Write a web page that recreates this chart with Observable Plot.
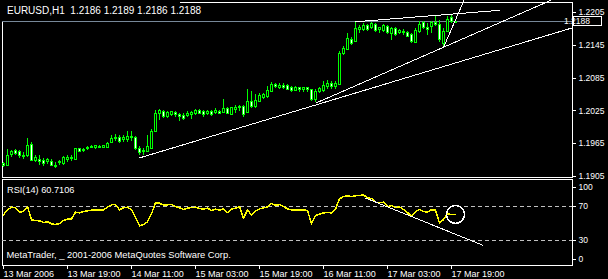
<!DOCTYPE html>
<html><head><meta charset="utf-8">
<script src="https://cdn.jsdelivr.net/npm/d3@7"></script>
<script src="https://cdn.jsdelivr.net/npm/@observablehq/plot@0.6"></script>
<style>
html,body{margin:0;padding:0;background:#000;}
#wrap{position:relative;width:608px;height:279px;background:#000;overflow:hidden;font-family:"Liberation Sans",Arial,sans-serif;}
#rsi{position:absolute;left:0;top:178px;}
#main{position:absolute;left:0;top:0;}
#main svg{overflow:visible;}
#title{position:absolute;left:0;top:1px;width:180px;height:20px;background:#000;color:#fff;font-size:10px;line-height:20px;padding-left:7px;white-space:pre;box-sizing:border-box;overflow:visible;}
</style></head><body>
<div id="wrap"><div id="rsi"></div><div id="main"></div><div id="title"></div></div>
<script>
const symbol = "EURUSD,H1";
const startTime = "2006-03-13T03:00:00Z";
const barOpen = [1.1927,1.1925,1.1945,1.1951,1.1949,1.1943,1.1943,1.1963,1.1934,1.1936,
1.1933,1.1931,1.1932,1.1925,1.1929,1.1927,1.1936,1.1939,1.1936,1.1956,
1.1952,1.1956,1.1957,1.1958,1.1959,1.1957,1.1957,1.1966,1.1973,1.1975,
1.1971,1.1971,1.1978,1.1975,1.1956,1.1949,1.1949,1.1956,1.1986,1.2019,
1.2023,1.2013,1.2017,1.2021,1.2018,1.2016,1.2015,1.2017,1.2020,1.2024,
1.2023,1.2019,1.2023,1.2021,1.2023,1.2021,1.2029,1.2018,1.2027,1.2030,
1.2032,1.2021,1.2042,1.2032,1.2042,1.2049,1.2050,1.2059,1.2073,1.2067,
1.2071,1.2070,1.2067,1.2062,1.2066,1.2064,1.2066,1.2064,1.2045,1.2060,
1.2061,1.2068,1.2075,1.2069,1.2073,1.2129,1.2136,1.2154,1.2151,1.2173,
1.2173,1.2181,1.2177,1.2182,1.2173,1.2171,1.2179,1.2165,1.2174,1.2168,
1.2170,1.2167,1.2163,1.2150,1.2170,1.2185,1.2176,1.2179,1.2185,1.2183,
1.2148,1.2169,1.2195,1.2186];
const barHigh = [1.1931,1.1954,1.1952,1.1954,1.1952,1.1949,1.1974,1.1967,1.1943,1.1943,
1.1938,1.1938,1.1936,1.1931,1.1934,1.1942,1.1943,1.1943,1.1957,1.1957,
1.1957,1.1960,1.1962,1.1962,1.1962,1.1962,1.1968,1.1980,1.1981,1.1980,
1.1980,1.1987,1.1987,1.1978,1.1959,1.1956,1.1980,1.1991,1.2026,1.2027,
1.2026,1.2024,1.2024,1.2023,1.2021,1.2021,1.2024,1.2024,1.2027,1.2027,
1.2026,1.2026,1.2026,1.2029,1.2026,1.2046,1.2032,1.2032,1.2034,1.2034,
1.2034,1.2064,1.2060,1.2055,1.2056,1.2056,1.2070,1.2077,1.2076,1.2075,
1.2075,1.2073,1.2070,1.2070,1.2068,1.2067,1.2067,1.2065,1.2065,1.2068,
1.2079,1.2080,1.2078,1.2078,1.2133,1.2143,1.2167,1.2159,1.2188,1.2182,
1.2185,1.2183,1.2186,1.2185,1.2177,1.2183,1.2182,1.2177,1.2177,1.2174,
1.2174,1.2171,1.2167,1.2176,1.2188,1.2188,1.2185,1.2189,1.2199,1.2190,
1.2176,1.2197,1.2201,1.2189];
const barLow = [1.1922,1.1924,1.1940,1.1943,1.1938,1.1936,1.1940,1.1933,1.1931,1.1925,
1.1924,1.1927,1.1923,1.1920,1.1925,1.1925,1.1931,1.1932,1.1934,1.1948,
1.1949,1.1953,1.1956,1.1954,1.1956,1.1956,1.1956,1.1965,1.1969,1.1965,
1.1968,1.1967,1.1969,1.1952,1.1943,1.1943,1.1948,1.1954,1.1985,1.2007,
1.2011,1.2012,1.2014,1.2013,1.2006,1.2007,1.2013,1.2009,1.2017,1.2018,
1.2013,1.2017,1.2015,1.2018,1.2018,1.2020,1.2018,1.2017,1.2021,1.2024,
1.2013,1.2020,1.2030,1.2030,1.2041,1.2046,1.2048,1.2058,1.2066,1.2064,
1.2064,1.2062,1.2059,1.2060,1.2059,1.2059,1.2059,1.2043,1.2040,1.2057,
1.2059,1.2065,1.2065,1.2065,1.2072,1.2127,1.2135,1.2145,1.2150,1.2167,
1.2171,1.2170,1.2174,1.2168,1.2167,1.2168,1.2165,1.2153,1.2161,1.2165,
1.2163,1.2159,1.2148,1.2148,1.2167,1.2173,1.2163,1.2167,1.2179,1.2151,
1.2140,1.2168,1.2185,1.2186];
const barClose = [1.1925,1.1943,1.1949,1.1947,1.1942,1.1940,1.1960,1.1934,1.1938,1.1931,
1.1927,1.1935,1.1925,1.1923,1.1931,1.1938,1.1939,1.1937,1.1956,1.1949,
1.1954,1.1958,1.1959,1.1960,1.1957,1.1960,1.1965,1.1974,1.1975,1.1968,
1.1976,1.1978,1.1975,1.1956,1.1948,1.1952,1.1959,1.1986,1.2020,1.2024,
1.2013,1.2021,1.2023,1.2018,1.2014,1.2011,1.2020,1.2021,1.2024,1.2020,
1.2018,1.2023,1.2017,1.2024,1.2020,1.2029,1.2020,1.2030,1.2030,1.2033,
1.2017,1.2042,1.2032,1.2044,1.2052,1.2054,1.2062,1.2073,1.2068,1.2071,
1.2066,1.2064,1.2062,1.2066,1.2064,1.2066,1.2064,1.2045,1.2060,1.2065,
1.2070,1.2075,1.2069,1.2075,1.2130,1.2139,1.2156,1.2148,1.2174,1.2177,
1.2181,1.2173,1.2184,1.2171,1.2176,1.2181,1.2168,1.2174,1.2163,1.2171,
1.2167,1.2161,1.2151,1.2171,1.2183,1.2176,1.2173,1.2185,1.2182,1.2154,
1.2169,1.2192,1.2187,1.2188];
const rsiValues = [60.2,66.1,69.2,68.4,63.3,64.1,70.0,54.3,53.5,53.1,
51.2,52.0,49.6,48.8,50.0,53.5,55.1,55.5,63.3,62.5,
64.1,64.9,65.7,66.1,65.7,66.1,69.2,72.0,72.4,66.1,
68.4,69.2,66.1,57.5,47.3,48.8,52.0,61.4,74.3,73.9,
71.6,72.0,72.3,70.0,68.4,66.5,68.0,68.8,69.2,67.6,
66.9,68.0,65.3,66.8,65.8,67.3,62.9,66.9,68.0,69.6,
56.3,66.1,59.8,64.5,67.3,68.4,69.6,73.5,71.6,72.2,
70.0,67.3,66.1,66.1,66.1,66.1,65.3,49.6,59.4,61.0,
62.5,62.9,62.5,66.9,79.0,81.8,82.6,81.8,82.6,82.9,
83.7,80.2,79.5,75.1,74.6,75.1,70.0,71.0,68.8,69.5,
66.5,62.9,58.5,64.0,66.5,64.0,63.3,66.3,65.8,50.4,
54.7,61.5,60.4,60.7106];
const priceTicks = [1.1905, 1.1965, 1.2025, 1.2085, 1.2145, 1.2205];
const priceDomain = [1.1905, 1.2205];
const timeTicks = ["2006-03-13T03:00:00Z","2006-03-13T19:00:00Z","2006-03-14T11:00:00Z","2006-03-15T03:00:00Z","2006-03-15T19:00:00Z","2006-03-16T11:00:00Z","2006-03-17T03:00:00Z","2006-03-17T19:00:00Z"];
const timeTickLabels = ["13 Mar 2006","13 Mar 19:00","14 Mar 11:00","15 Mar 03:00","15 Mar 19:00","16 Mar 11:00","17 Mar 03:00","17 Mar 19:00"];
// price trend lines: bar index / price at each end
const trendFromBar = [34, 78, 110, 88];
const trendFromPrice = [1.1939, 1.2039, 1.2141, 1.2188];
const trendToBar = [142.25, 136.75, 115.1, 124];
const trendToPrice = [1.2177, 1.2227, 1.2227, 1.2209];
// RSI trend line
const rsiTrendBars = [90.5, 120];
const rsiTrendValues = [80.0, 24.1];
const rsiLevels = [30, 70];
const rsiName = "RSI(14)";
const copyright = "MetaTrader, _ 2001-2006 MetaQuotes Software Corp.";

const HOUR = 3600e3;
const t0 = Date.parse(startTime);
const tAt = i => new Date(t0 + i * HOUR);
const bars = barOpen.map((o, i) => ({t: tAt(i), open: o, high: barHigh[i], low: barLow[i], close: barClose[i]}));
const rsi = rsiValues.map((v, i) => ({t: tAt(i), v}));
const trends = trendFromBar.map((b, k) => ({x1: tAt(b), y1: trendFromPrice[k], x2: tAt(trendToBar[k]), y2: trendToPrice[k]}));
const last = bars[bars.length - 1];
const lastRsi = rsi[rsi.length - 1];
const FONT = '"Liberation Sans", Arial, sans-serif';
const fmt4 = d3.format(".4f");

document.getElementById("title").textContent =
  `${symbol}  ${fmt4(last.open)} ${fmt4(last.high)} ${fmt4(last.low)} ${fmt4(last.close)}`;

const xOpts = {type: "utc", domain: [bars[0].t, last.t], range: [3, 455]};
const LIME = "#00ff00";

const main = Plot.plot({
  width: 608, height: 178,
  marginLeft: 2, marginRight: 36, marginTop: 2, marginBottom: 1,
  style: {background: "black", color: "white", fontFamily: FONT, fontSize: "8.5px", shapeRendering: "crispEdges", overflow: "visible"},
  x: {...xOpts, axis: null},
  y: {domain: priceDomain, range: [176, 12], axis: null},
  color: {type: "identity"},
  marks: [
    Plot.frame({stroke: "white"}),
    Plot.ruleY([last.close], {stroke: "#778899"}),
    Plot.ruleX(bars, {x: "t", y1: "low", y2: "high", stroke: LIME}),
    Plot.rect(bars, {
      x1: d => new Date(+d.t - HOUR / 4), x2: d => new Date(+d.t + HOUR / 4),
      y1: "open", y2: "close",
      fill: d => d.close > d.open ? "black" : "white", stroke: LIME
    }),
    Plot.link(trends, {x1: "x1", y1: "y1", x2: "x2", y2: "y2", stroke: "white"}),
    Plot.axisY(priceTicks, {anchor: "right", tickSize: 3, tickPadding: 3, tickFormat: fmt4, stroke: "white", fill: "white", fontSize: 8.5})
  ]
});
{
  const yy = main.scale("y").apply(last.close);
  const g = d3.select(main).append("g");
  g.append("rect").attr("x", 573.5).attr("y", Math.round(yy) - 4.5).attr("width", 28).attr("height", 9)
    .attr("fill", "black").attr("stroke", "white").attr("shape-rendering", "crispEdges");
  g.append("text").attr("x", 577).attr("y", yy).attr("dy", "0.35em").attr("fill", "white")
    .attr("font-size", 8.5).attr("font-family", FONT).text(fmt4(last.close));
}
document.getElementById("main").appendChild(main);

const tickLabelMap = new Map(timeTicks.map((d, i) => [Date.parse(d), timeTickLabels[i]]));
const rsiPlot = Plot.plot({
  width: 608, height: 101,
  marginLeft: 2, marginRight: 36, marginTop: 1, marginBottom: 14,
  style: {background: "black", color: "white", fontFamily: FONT, fontSize: "9px", shapeRendering: "crispEdges"},
  x: {...xOpts},
  y: {domain: [0, 100], range: [87.5, 2.5], axis: null},
  marks: [
    Plot.frame({stroke: "white"}),
    Plot.ruleY(rsiLevels, {stroke: "#c0c0c0", strokeDasharray: "4,3"}),
    Plot.line(rsi, {x: "t", y: "v", stroke: "#ffff00"}),
    Plot.link([{x1: tAt(rsiTrendBars[0]), y1: rsiTrendValues[0], x2: tAt(rsiTrendBars[1]), y2: rsiTrendValues[1]}],
      {x1: "x1", y1: "y1", x2: "x2", y2: "y2", stroke: "white"}),
    Plot.dot([lastRsi], {x: "t", y: "v", r: 9, stroke: "white", fill: "none"}),
    Plot.text([`${rsiName} ${lastRsi.v.toFixed(4)}`], {frameAnchor: "top-left", textAnchor: "start", lineAnchor: "middle", dx: 4.5, dy: 11, fill: "white", fontSize: 9.2}),
    Plot.text([copyright], {frameAnchor: "bottom-left", textAnchor: "start", lineAnchor: "middle", dx: 4, dy: -11, fill: "white", fontSize: 9.4}),
    Plot.axisY(rsiLevels, {anchor: "right", tickSize: 3, tickPadding: 3, stroke: "white", fill: "white", fontSize: 8.5}),
    Plot.axisY([100], {anchor: "right", tickSize: 3, tickPadding: 3, dy: 6.5, stroke: "white", fill: "white", fontSize: 8.5}),
    Plot.axisY([0], {anchor: "right", tickSize: 3, tickPadding: 3, dy: -6.5, stroke: "white", fill: "white", fontSize: 8.5}),
    Plot.axisX(timeTicks.map(d => new Date(d)), {anchor: "bottom", tickSize: 4, tickPadding: 1, textAnchor: "start",
      tickFormat: d => tickLabelMap.get(+d), stroke: "white", fill: "white", fontSize: 9})
  ]
});
document.getElementById("rsi").appendChild(rsiPlot);
</script>
</body></html>
